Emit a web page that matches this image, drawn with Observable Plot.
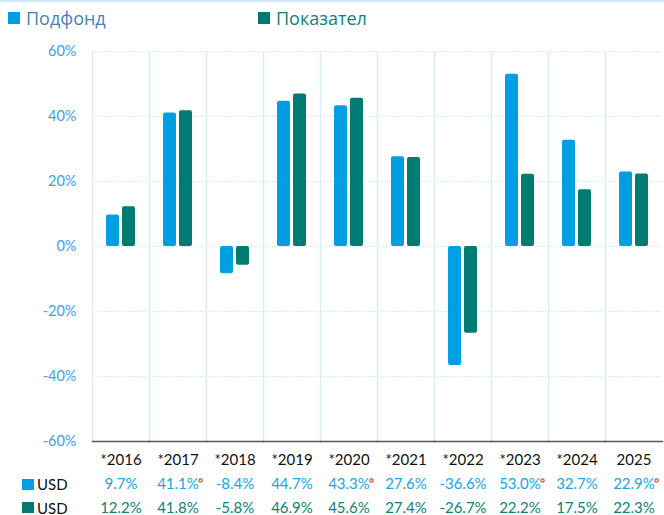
<!DOCTYPE html>
<html>
<head>
<meta charset="utf-8">
<script src="https://cdn.jsdelivr.net/npm/d3@7"></script>
<script src="https://cdn.jsdelivr.net/npm/@observablehq/plot@0.6"></script>
<style>
  body { margin: 0; background: #fff; font-family: Lato, "Open Sans", sans-serif; }
  #wrap { position: relative; width: 664px; height: 515px; overflow: hidden; }
  #legend { position: relative; height: 34px; border-top: 2px solid #cfe9f6; font-family: "Open Sans", sans-serif; font-size: 18px; }
  .li { position: absolute; top: 4px; display: flex; align-items: center; }
  .sw { width: 12px; height: 12px; display: inline-block; margin-right: 6px; }
  .rowlab { position: absolute; left: 22px; height: 14px; line-height: 14px; display: flex; align-items: center; font-family: Lato, sans-serif; font-size: 15px; color: #111; }
  .rowlab .sq { width: 12px; height: 11px; margin-right: 3px; }
  #chart svg { display: block; }
</style>
</head>
<body>
<div id="wrap">
  <div id="legend"></div>
  <div id="chart"></div>
</div>
<script>
const years = ["*2016","*2017","*2018","*2019","*2020","*2021","*2022","*2023","*2024","2025"];
const series = ["Подфонд","Показател"];
const fundValues = [9.7, 41.1, -8.4, 44.7, 43.3, 27.6, -36.6, 53.0, 32.7, 22.9];
const indexValues = [12.2, 41.8, -5.8, 46.9, 45.6, 27.4, -26.7, 22.2, 17.5, 22.3];
const fundFlagged = [false, true, false, false, true, false, false, true, false, true];
const rowLabels = ["USD", "USD"];
const yTicks = [-60, -40, -20, 0, 20, 40, 60];

const colors = ["#009fe3", "#007b73"];
const legendTextColors = ["#4a7ebb", "#137f79"];
const rowTextColors = ["#22a3e2", "#0c7f78"];

const data = [];
years.forEach((y, i) => {
  data.push({year: y, series: series[0], value: fundValues[i], flag: fundFlagged[i]});
  data.push({year: y, series: series[1], value: indexValues[i], flag: false});
});
const fundData = data.filter(d => d.series === series[0]);
const indexData = data.filter(d => d.series === series[1]);
const yearData = years.map(y => ({year: y}));
const fmt = v => v.toFixed(1) + "%";

// Legend
const legend = document.getElementById("legend");
const legendX = [8, 258];
series.forEach((s, i) => {
  const el = document.createElement("div");
  el.className = "li";
  el.style.left = legendX[i] + "px";
  el.innerHTML = `<span class="sw" style="background:${colors[i]}"></span><span style="color:${legendTextColors[i]}">${s}</span>`;
  legend.appendChild(el);
});

const chart = Plot.plot({
  width: 664,
  height: 479,
  marginTop: 15,
  marginBottom: 74,
  marginLeft: 91,
  marginRight: 1,
  style: {fontFamily: "Lato, sans-serif", fontSize: "15px", color: "#3ca0e4", background: "transparent", overflow: "visible"},
  fx: {domain: years, padding: 0, axis: null, label: null},
  x: {domain: series, paddingInner: 0.176, paddingOuter: 0.772, axis: null},
  y: {domain: [-60, 60], axis: null},
  color: {domain: series, range: colors},
  marks: [
    Plot.gridY(yTicks, {stroke: "#cfe7f8", strokeOpacity: 1, strokeDasharray: "1.5,1.5"}),
    Plot.frame({anchor: "left", stroke: "#d8edfa", strokeWidth: 1.5}),
    Plot.axisY(yTicks, {tickSize: 0, tickPadding: 16, tickFormat: d => d + "%", label: null, fontSize: 14.5, fill: "#3ca0e4"}),
    Plot.barY(data, {fx: "year", x: "series", y: "value", fill: "series", rx: 2}),
    Plot.frame({anchor: "bottom", stroke: "#595959", strokeWidth: 1.5}),
    Plot.text(yearData, {fx: "year", text: "year", frameAnchor: "bottom", lineAnchor: "middle", dy: 19, fill: "#111", fontSize: 15}),
    Plot.text(fundData, {fx: "year", text: d => fmt(d.value), frameAnchor: "bottom", lineAnchor: "middle", dy: 43, fill: rowTextColors[0], fontSize: 15}),
    Plot.text(indexData, {fx: "year", text: d => fmt(d.value), frameAnchor: "bottom", lineAnchor: "middle", dy: 66.5, fill: rowTextColors[1], fontSize: 15}),
    Plot.dot(fundData.filter(d => d.flag), {fx: "year", frameAnchor: "bottom", dx: 22.5, dy: 39, r: 1.6, fill: "#fff", stroke: "#f04a3a", strokeWidth: 1.3})
  ]
});
document.getElementById("chart").appendChild(chart);

// Row labels of the table
const wrap = document.getElementById("wrap");
const rowTops = [477, 500.5];
rowLabels.forEach((lab, i) => {
  const el = document.createElement("div");
  el.className = "rowlab";
  el.style.top = rowTops[i] + "px";
  el.innerHTML = `<span class="sq" style="background:${colors[i]}"></span><span>${lab}</span>`;
  wrap.appendChild(el);
});
</script>
</body>
</html>
